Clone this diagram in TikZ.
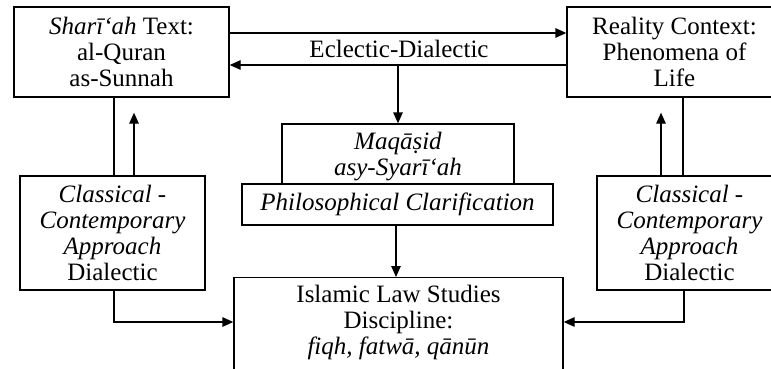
\documentclass[tikz,border=0pt]{standalone}
\usepackage{fontspec}
\setmainfont{Liberation Serif}
\usetikzlibrary{arrows.meta}
\tikzset{
  box/.style={draw=black, line width=1.3pt, fill=white, align=center, inner sep=0pt,
    font=\fontsize{25}{26}\selectfont},
  txt/.style={align=center, inner sep=0pt, font=\fontsize{25}{26}\selectfont},
  conn/.style={line width=1.3pt},
  arr/.style={line width=1.3pt, -{Triangle[length=11pt,width=9.5pt]}}
}
\begin{document}
\begin{tikzpicture}[x=1pt,y=-1pt]
\useasboundingbox (0,0) rectangle (771,369);
% top boxes
\node[box, minimum width=215pt, minimum height=90pt] (sharia) at (121.5,52)
  {\textit{Sharī‘ah} Text:\\al-Quran\\as-Sunnah};
\node[box, minimum width=215pt, minimum height=90pt] (reality) at (674.5,52)
  {Reality Context:\\Phenomena of\\Life};
% classical boxes
\node[box, minimum width=185pt, minimum height=114pt] (classL) at (112.5,233)
  {\textit{Classical -}\\\textit{Contemporary}\\\textit{Approach}\\Dialectic};
\node[box, minimum width=185pt, minimum height=114pt] (classR) at (689.5,233)
  {\textit{Classical -}\\\textit{Contemporary}\\\textit{Approach}\\Dialectic};
% middle boxes
\node[box, minimum width=232pt, minimum height=66pt] (maqasid) at (398,157)
  {\textit{Maqāṣid}\\\textit{asy-Syarī‘ah}};
\node[box, minimum width=311pt, minimum height=41pt] (philo) at (397.5,204.5)
  {\textit{Philosophical Clarification}};
% bottom box
\node[box, minimum width=329pt, minimum height=115pt, anchor=north] (law) at (398.5,277) {};
\node[txt] (lawtext) at (398.5,322)
  {Islamic Law Studies\\Discipline:\\\textit{fiqh, fatwā, qānūn}};
% eclectic label
\node[txt] (ecl) at (399,49) {Eclectic-Dialectic};
% top connectors
\draw[arr] ([yshift=19pt]sharia.east) -- ([yshift=19pt]reality.west);
\draw[arr] ([yshift=-13pt]reality.west) -- ([yshift=-13pt]sharia.east);
\coordinate (lowrow) at ([yshift=-13pt]sharia.east);
\draw[arr] (lowrow -| maqasid.north) -- (maqasid.north);
\draw[arr] ([xshift=-1.5pt]philo.south) -- ([xshift=-2.5pt]law.north);
% left side
\draw[conn] ([xshift=-7.5pt]sharia.south) -- ([xshift=1.5pt]classL.north);
\draw[arr] ([xshift=21.5pt]classL.north) -- ([xshift=12.5pt,yshift=-15pt]sharia.south);
% right side
\draw[conn] ([xshift=8.5pt]reality.south) -- ([xshift=-6.5pt]classR.north);
\draw[arr] ([xshift=-28.5pt]classR.north) -- ([xshift=-13.5pt,yshift=-15pt]reality.south);
% bottom connectors
\draw[arr] ([xshift=1.5pt]classL.south) |- (law.west |- lawtext);
\draw[arr] ([xshift=-5.5pt]classR.south) |- (law.east |- lawtext);
\end{tikzpicture}
\end{document}
